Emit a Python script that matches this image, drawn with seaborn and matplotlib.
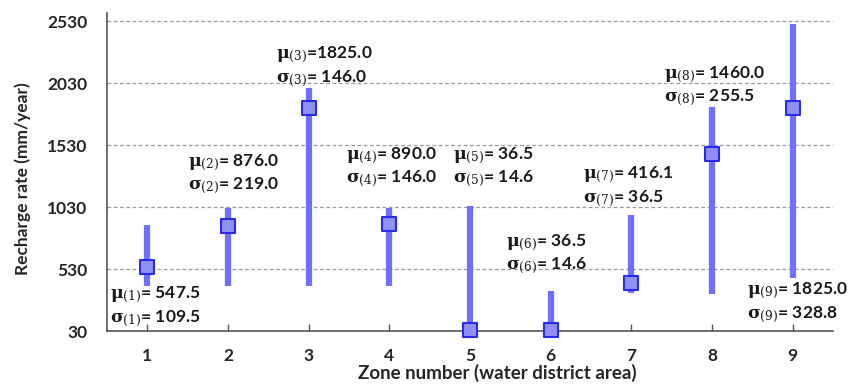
import matplotlib
matplotlib.use("Agg")
import matplotlib.pyplot as plt
import seaborn as sns
import pandas as pd

zones = [1, 2, 3, 4, 5, 6, 7, 8, 9]
means = [547.5, 876.0, 1825.0, 890.0, 36.5, 36.5, 416.1, 1460.0, 1825.0]
sigmas = [109.5, 219.0, 146.0, 146.0, 14.6, 14.6, 36.5, 255.5, 328.8]
range_low = [393, 393, 393, 393, 30, 30, 336, 328, 457]
range_high = [885, 1022, 1990, 1022, 1038, 353, 965, 1836, 2506]
yticks = [30, 530, 1030, 1530, 2030, 2530]

# label anchor positions (left edge x, mu-line y) in data units
label_pos = [(0.54, 320), (1.51, 1390), (2.59, 2255), (3.46, 1445), (4.79, 1445),
             (5.45, 745), (6.40, 1290), (7.40, 2100), (8.44, 352)]

sns.set_theme(style="white")
plt.rcParams["font.family"] = ["Lato", "DejaVu Sans"]
plt.rcParams["mathtext.fontset"] = "dejavuserif"

df = pd.DataFrame({"zone": zones, "mean": means, "low": range_low, "high": range_high})

fig = plt.figure(figsize=(8.59, 3.89), dpi=100)
ax = fig.add_axes([0.1246, 0.149, 0.845, 0.8176])

for y in yticks[1:]:
    ax.axhline(y, color="#9a9a9a", lw=0.9, ls=(0, (3, 2)), zorder=0)

ax.vlines(df["zone"], df["low"], df["high"], color="#7070ff", lw=4.5, zorder=2)
sns.scatterplot(data=df, x="zone", y="mean", marker="s", s=115, color="#9090f2",
                edgecolor="#2a2af0", linewidth=1.5, ax=ax, zorder=3, clip_on=False)

for i, (z, m, s) in enumerate(zip(zones, means, sigmas)):
    lx, ly = label_pos[i]
    sep = "=" if z == 3 else "= "
    ax.text(lx, ly, r"$\mathbf{\mu}_{(%d)}$" % z + f"{sep}{m:.1f}", fontsize=12.5,
            fontweight="bold", va="center", ha="left", color="#1a1a1a")
    ax.text(lx, ly - 190, r"$\mathbf{\sigma}_{(%d)}$" % z + f"= {s:.1f}", fontsize=12.5,
            fontweight="bold", va="center", ha="left", color="#1a1a1a")

ax.set_xlim(0.5, 9.5)
ax.set_ylim(30, 2595)
ax.set_xticks(zones)
ax.set_xticklabels([str(z) for z in zones])
ax.set_yticks(yticks)
ax.set_yticklabels([str(t) for t in yticks])
ax.tick_params(axis="x", direction="in", length=5, width=1, color="#555555",
               labelsize=12.5, pad=12, bottom=True)
ax.tick_params(axis="y", length=0, labelsize=12.5, pad=14)
for lab in ax.get_xticklabels() + ax.get_yticklabels():
    lab.set_fontweight("bold")
ax.set_xlabel("Zone number (water district area)", fontsize=13.5, fontweight="bold")
ax.xaxis.label.set_va("center")
ax.xaxis.set_label_coords(0.537, -0.132)
ax.set_ylabel("Recharge rate (mm/year)", fontsize=12.5, fontweight="bold")
ax.yaxis.label.set_va("center")
ax.yaxis.set_label_coords(-0.116, 0.478)
for sp in ["top", "right"]:
    ax.spines[sp].set_visible(False)
for sp in ["left", "bottom"]:
    ax.spines[sp].set_color("#555555")
    ax.spines[sp].set_linewidth(1.2)

fig.savefig("out.png", dpi=100)
